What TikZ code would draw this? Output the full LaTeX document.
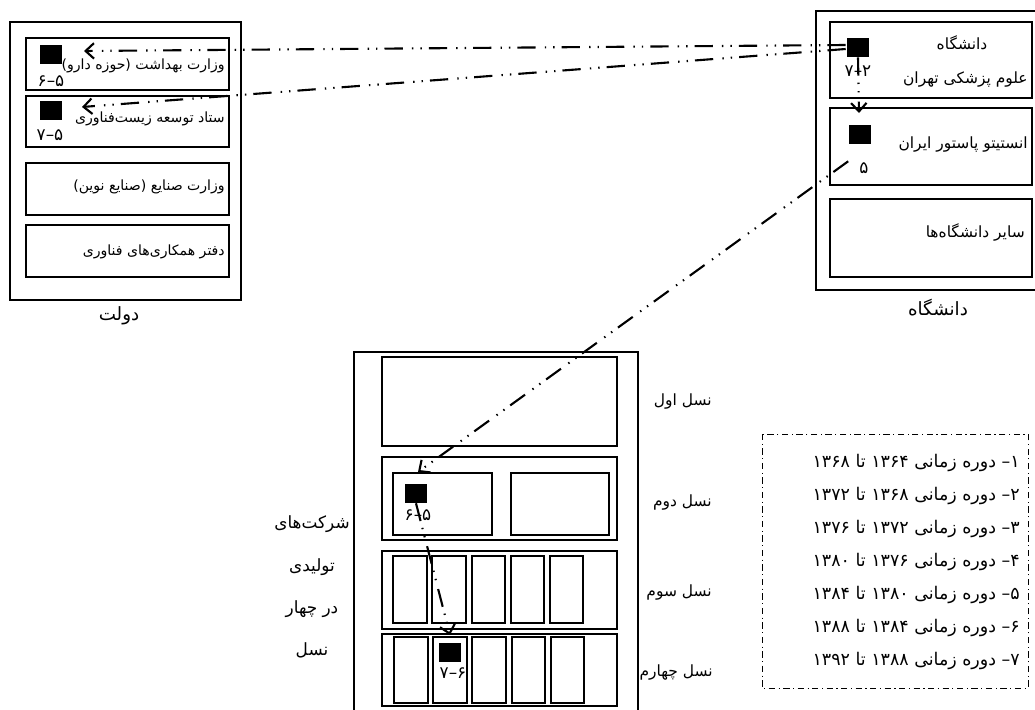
\documentclass[tikz,border=0pt]{standalone}
\usepackage{fontspec}
\newfontfamily\fa[Script=Arabic]{DejaVu Sans}
\TeXXeTstate=1
\usepackage{tikz}
\usetikzlibrary{arrows.meta, calc}
\newcommand{\fatxt}[1]{{\fa\beginR #1\endR}}

\begin{document}
\begin{tikzpicture}[x=0.025cm, y=-0.025cm,
    box/.style={draw, line width=1.4pt},
    sq/.style={fill=black, inner sep=0pt, minimum width=0.55cm, minimum height=0.475cm},
    intxt/.style={inner sep=0pt, font=\fontsize{10}{12}\selectfont},
    numtxt/.style={inner sep=0pt, font=\fontsize{12}{14}\selectfont},
    grptxt/.style={inner sep=0pt, font=\fontsize{13}{15}\selectfont},
    legtxt/.style={inner sep=0pt, font=\fontsize{12.4}{14}\selectfont},
    conn/.style={line width=1.5pt, dash pattern=on 13pt off 5pt on 1pt off 5pt on 1pt off 6.5pt,
        -{Straight Barb[length=6pt, width=11pt]}},
    legbox/.style={line width=0.6pt, dash pattern=on 4.5pt off 2.5pt on 0.8pt off 2.5pt}]
\useasboundingbox (0,0) rectangle (1035,710);

% dolat
\draw[box] (10,22) rectangle (241,300);
\draw[box] (26,38) rectangle (229,90);
\draw[box] (26,96) rectangle (229,147);
\draw[box] (26,163) rectangle (229,215);
\draw[box] (26,225) rectangle (229,277);
\node[intxt, anchor=east] (behdasht) at (225,66) {\fatxt{وزارت بهداشت (حوزه دارو)}};
\node[intxt, anchor=east] (stad) at (225,119) {\fatxt{ستاد توسعه زیست‌فناوری}};
\node[intxt, anchor=east] (sanaye) at (225,187) {\fatxt{وزارت صنایع (صنایع نوین)}};
\node[intxt, anchor=east] (daftar) at (225,252) {\fatxt{دفتر همکاری‌های فناوری}};
\node[sq] (sqBehdasht) at (51,54.5) {};
\node[sq] (sqStad) at (51,110.5) {};
\node[numtxt] (nBehdasht) at (51,81) {\fatxt{۵–۶}};
\node[numtxt] (nStad) at (50,135) {\fatxt{۵–۷}};
\node[grptxt] (dolat) at (119,316) {\fatxt{دولت}};

% daneshgah
\draw[box] (816,11) rectangle (1040,290);
\draw[box] (830,22) rectangle (1032,98);
\draw[box] (830,108) rectangle (1032,185);
\draw[box] (830,199) rectangle (1032,277);
\node[intxt, font=\fontsize{11}{13}\selectfont] (tehran1) at (962,43) {\fatxt{دانشگاه}};
\node[intxt, font=\fontsize{11}{13}\selectfont, anchor=east] (tehran2) at (1028,80) {\fatxt{علوم پزشکی تهران}};
\node[intxt, font=\fontsize{11}{13}\selectfont, anchor=east] (pasteur) at (1028,145) {\fatxt{انستیتو پاستور ایران}};
\node[intxt, font=\fontsize{11}{13}\selectfont, anchor=east] (sayer) at (1025,232) {\fatxt{سایر دانشگاه‌ها}};
\node[sq] (sqTehran) at (858,47.5) {};
\node[sq] (sqPasteur) at (859.5,134.5) {};
\node[numtxt] (nTehran) at (858,71) {\fatxt{۲–۷}};
\node[numtxt] (nPasteur) at (864,168) {\fatxt{۵}};
\node[grptxt] (daneshgah) at (938,308) {\fatxt{دانشگاه}};

% sherkatha
\draw[box] (354,352) rectangle (638,716);
\draw[box] (382,357) rectangle (617,446);
\draw[box] (382,457) rectangle (617,540);
\draw[box] (393,473) rectangle (492,535);
\draw[box] (511,473) rectangle (609,535);
\draw[box] (382,551) rectangle (617,629);
\draw[box] (393,556) rectangle (427,623);
\draw[box] (432,556) rectangle (466,623);
\draw[box] (472,556) rectangle (505,623);
\draw[box] (511,556) rectangle (544,623);
\draw[box] (550,556) rectangle (583,623);
\draw[box] (382,634) rectangle (617,706);
\draw[box] (394,637) rectangle (428,703);
\draw[box] (433,637) rectangle (467,703);
\draw[box] (472,637) rectangle (506,703);
\draw[box] (512,637) rectangle (545,703);
\draw[box] (551,637) rectangle (584,703);
\node[sq] (sqNasl2) at (416,493.5) {};
\node[sq] (sqNasl4) at (450,652.5) {};
\node[numtxt] (nNasl2) at (418,515) {\fatxt{۵–۶}};
\node[numtxt] (nNasl4) at (453,673) {\fatxt{۶–۷}};
\node[intxt, font=\fontsize{11}{13}\selectfont, anchor=east] (nasl1) at (712,402) {\fatxt{نسل اول}};
\node[intxt, font=\fontsize{11}{13}\selectfont, anchor=east] (nasl2) at (712,503) {\fatxt{نسل دوم}};
\node[intxt, font=\fontsize{11}{13}\selectfont, anchor=east] (nasl3) at (712,593) {\fatxt{نسل سوم}};
\node[intxt, font=\fontsize{11}{13}\selectfont, anchor=east] (nasl4) at (713,673) {\fatxt{نسل چهارم}};
\node[grptxt, align=center, font=\fontsize{12}{30}\selectfont] (sherkat) at (312,587)
    {\fatxt{شرکت‌های}\\\fatxt{تولیدی}\\\fatxt{در چهار}\\\fatxt{نسل}};

% rahnama
\draw[legbox] (762,434) rectangle (1028,688);
\node[legtxt, anchor=east] (dore1) at (1020,463) {\fatxt{۱– دوره زمانی ۱۳۶۴ تا ۱۳۶۸}};
\node[legtxt, anchor=east] (dore2) at (1020,496) {\fatxt{۲– دوره زمانی ۱۳۶۸ تا ۱۳۷۲}};
\node[legtxt, anchor=east] (dore3) at (1020,529) {\fatxt{۳– دوره زمانی ۱۳۷۲ تا ۱۳۷۶}};
\node[legtxt, anchor=east] (dore4) at (1020,562) {\fatxt{۴– دوره زمانی ۱۳۷۶ تا ۱۳۸۰}};
\node[legtxt, anchor=east] (dore5) at (1020,595) {\fatxt{۵– دوره زمانی ۱۳۸۰ تا ۱۳۸۴}};
\node[legtxt, anchor=east] (dore6) at (1020,628) {\fatxt{۶– دوره زمانی ۱۳۸۴ تا ۱۳۸۸}};
\node[legtxt, anchor=east] (dore7) at (1020,661) {\fatxt{۷– دوره زمانی ۱۳۸۸ تا ۱۳۹۲}};

% arrows
\coordinate (tBeh) at (84,51);
\coordinate (tStad) at (82,107);
\coordinate (tPas) at (859,113);
\coordinate (tN2) at (418,472);
\coordinate (tN4) at (450,635);
\draw[conn] ($(sqTehran.west)+(-1,-2.5)$) -- (tBeh);
\draw[conn] ($(sqTehran.west)+(-1,1.5)$) -- (tStad);
\draw[conn] (sqTehran.south) -- (tPas);
\draw[conn] ($(sqPasteur.south west)+(0,17)$) -- (tN2);
\draw[conn] (sqNasl2.south) -- (tN4);
\end{tikzpicture}
\end{document}
